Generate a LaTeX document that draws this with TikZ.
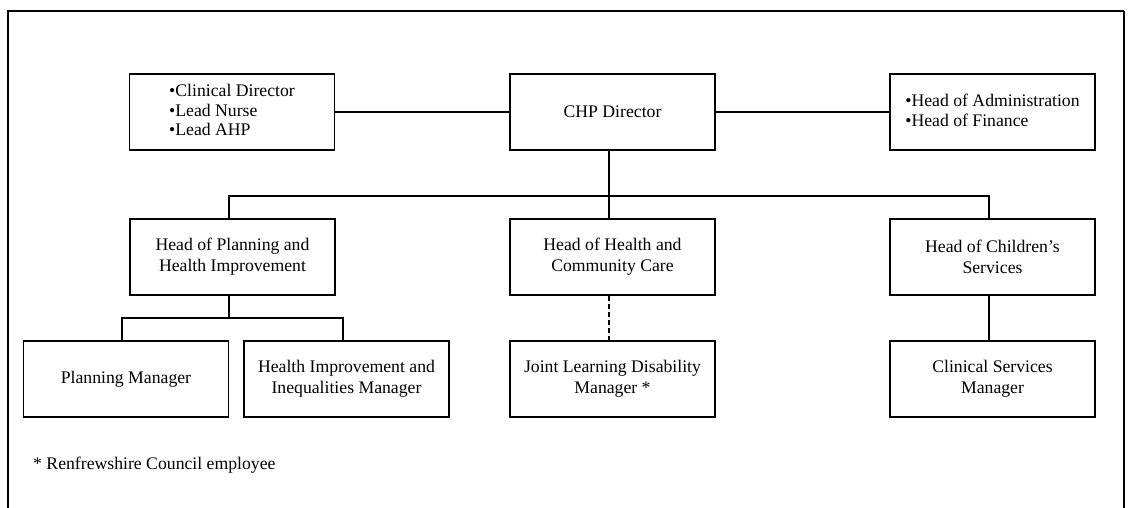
\documentclass[tikz,border=0pt]{standalone}
\usepackage{fontspec}
\setmainfont{Liberation Serif}
\begin{document}
\begin{tikzpicture}[x=1pt,y=-1pt,
  box/.style={draw,line width=1.2pt,minimum width=205pt,minimum height=76pt,inner sep=0pt,align=center,font=\fontsize{17.7}{20.8}\selectfont},
  conn/.style={line width=1.2pt},
  dconn/.style={line width=2pt,dash pattern=on 5pt off 3pt}]
\useasboundingbox (0,0) rectangle (1128,508);
% outer frame
\draw[line width=2.5pt] (8,508) -- (8,11) -- (1124,11);
\draw[line width=1.4pt] (1124,11) -- (1124,508);
% top row
\node[box] (lead) at (232,112) {\begin{tabular}{@{}l@{}}•Clinical Director\\[-1pt]•Lead Nurse\\[-1pt]•Lead AHP\end{tabular}};
\node[box] (chp) at (612.5,112) {CHP Director};
\node[box] (admin) at (992.5,112) {\begin{tabular}{@{}l@{}}•Head of Administration\\[-1pt]•Head of Finance\end{tabular}};
% middle row
\node[box] (hp) at (232.5,257) {Head of Planning and\\Health Improvement};
\node[box] (hhc) at (612.5,257) {Head of Health and\\Community Care};
\node[box] (hcs) at (992.5,257) {Head of Children’s\\Services};
% bottom row
\node[box] (pm) at (126,379) {Planning Manager};
\node[box] (him) at (346.5,379) {Health Improvement and\\Inequalities Manager};
\node[box] (jldm) at (612.5,379) {Joint Learning Disability\\Manager *};
\node[box] (csm) at (992.5,379) {Clinical Services\\Manager};
% footnote
\node[anchor=base west,inner sep=0pt,font=\fontsize{17.7}{20.8}\selectfont] (note) at (33,469) {* Renfrewshire Council employee};
% connectors
\coordinate (bus) at (609,196);
\coordinate (sbus) at (229,318);
\draw[conn] (lead.east) -- (chp.west);
\draw[conn] (chp.east) -- (admin.west);
\draw[conn] ([xshift=-3.5pt]chp.south) -- (bus);
\draw[conn] ([xshift=-3.5pt]hp.north) |- (bus) -| ([xshift=-3.5pt]hcs.north);
\draw[conn] (bus) -- ([xshift=-3.5pt]hhc.north);
\draw[conn] ([xshift=-3.5pt]hp.south) -- (sbus);
\draw[conn] ([xshift=-4pt]pm.north) |- (sbus) -| ([xshift=-3.5pt]him.north);
\draw[dconn] ([xshift=-3.5pt]hhc.south) -- ([xshift=-3.5pt]jldm.north);
\draw[conn] ([xshift=-3.5pt]hcs.south) -- ([xshift=-3.5pt]csm.north);
\end{tikzpicture}
\end{document}
